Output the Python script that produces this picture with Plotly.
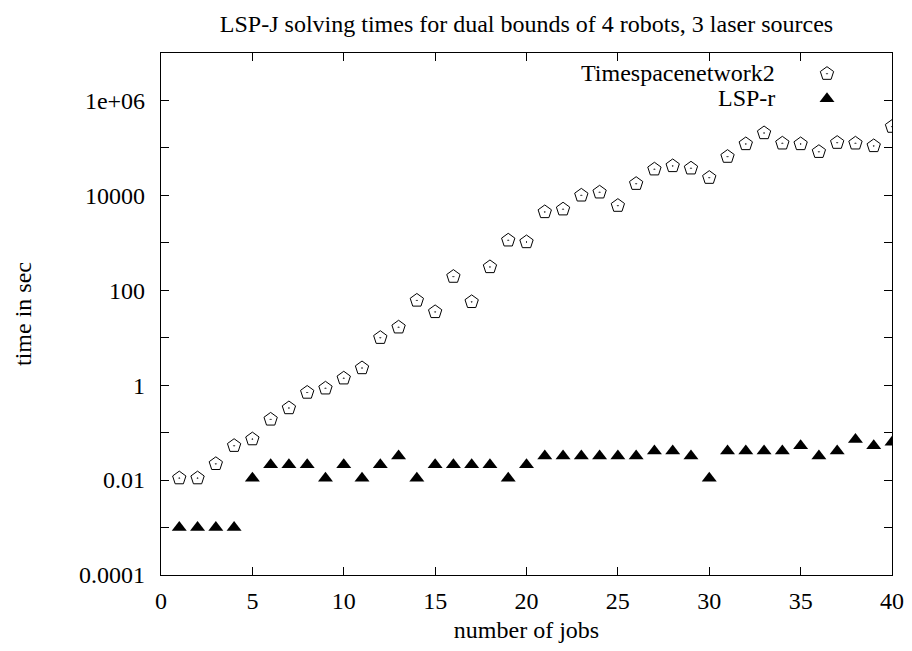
import plotly.graph_objects as go

jobs = list(range(1, 41))

timespacenetwork2 = [
    0.011, 0.011, 0.022, 0.053, 0.073, 0.19, 0.33, 0.70, 0.86, 1.4,
    2.3, 10, 16.6, 61, 35, 194, 57, 310, 1130, 1040,
    4470, 5100, 10000, 11600, 6070, 17600, 35500, 41700, 37200, 23600,
    65500, 121000, 206000, 125000, 121000, 83000, 129000, 125000, 110000, 281000,
]

lsp_r = [
    0.001, 0.001, 0.001, 0.001, 0.011, 0.021, 0.021, 0.021, 0.011, 0.021,
    0.011, 0.021, 0.032, 0.011, 0.021, 0.021, 0.021, 0.021, 0.011, 0.021,
    0.032, 0.032, 0.032, 0.032, 0.032, 0.032, 0.041, 0.041, 0.032, 0.011,
    0.041, 0.041, 0.041, 0.041, 0.053, 0.032, 0.041, 0.072, 0.053, 0.063,
]

series_names = ["Timespacenetwork2", "LSP-r"]

x_ticks = [0, 5, 10, 15, 20, 25, 30, 35, 40]
y_tickvals = [1e-4, 1e-3, 1e-2, 1e-1, 1, 10, 100, 1e3, 1e4, 1e5, 1e6]
y_ticktext = ["0.0001", "", "0.01", "", "1", "", "100", "", "10000", "", "1e+06"]

FONT = "Liberation Serif, Times New Roman, serif"
FS = 24

fig = go.Figure()
# legend text is drawn as right-aligned labels (gnuplot style: label, then symbol)
fig.add_trace(go.Scatter(
    x=jobs, y=timespacenetwork2, mode="markers", name="",
    hovertemplate="%{x}, %{y}<extra>" + series_names[0] + "</extra>",
    marker=dict(symbol="pentagon-open-dot", size=14, color="black",
                line=dict(color="black", width=1)),
))
fig.add_trace(go.Scatter(
    x=jobs, y=lsp_r, mode="markers", name="",
    hovertemplate="%{x}, %{y}<extra>" + series_names[1] + "</extra>",
    marker=dict(symbol="triangle-up", size=13, color="black",
                line=dict(width=0)),
))

axis_common = dict(
    showgrid=False, zeroline=False, showline=True, linecolor="black",
    linewidth=1.2, mirror="ticks", ticks="inside", ticklen=8,
    tickcolor="black", tickwidth=1, automargin=False,
    tickfont=dict(family=FONT, size=FS, color="black"),
)

legend_rows_y = [0.9617, 0.9138]
annotations = [
    dict(text=name, xref="paper", yref="paper", x=0.8427, y=yy,
         xanchor="right", yanchor="middle", showarrow=False,
         font=dict(family=FONT, size=FS, color="black"))
    for name, yy in zip(series_names, legend_rows_y)
]

fig.update_layout(
    width=896, height=635,
    paper_bgcolor="white", plot_bgcolor="white",
    margin=dict(l=153, r=12, t=45, b=68),
    font=dict(family=FONT, color="black"),
    title=dict(
        text="LSP-J solving times for dual bounds of 4 robots, 3 laser sources",
        x=0.5, xref="paper", xanchor="center",
        y=1 - 16 / 635, yanchor="middle", yref="container",
        font=dict(family=FONT, size=FS, color="black"),
    ),
    xaxis=dict(
        range=[0, 40], tickvals=x_ticks, ticklabelstandoff=4,
        title=dict(text="number of jobs", font=dict(family=FONT, size=FS), standoff=12),
        **axis_common,
    ),
    yaxis=dict(
        type="log", range=[-4, 7], tickvals=y_tickvals, ticktext=y_ticktext,
        ticklabelstandoff=10,
        title=dict(text="time in sec", font=dict(family=FONT, size=FS), standoff=40),
        **axis_common,
    ),
    legend=dict(
        x=0.8837, y=0.994, xanchor="left", yanchor="top",
        bgcolor="rgba(0,0,0,0)", borderwidth=0,
        font=dict(family=FONT, size=17, color="black"),
        tracegroupgap=0, itemwidth=30,
    ),
    annotations=annotations,
    showlegend=True,
)

fig.write_html("out.html")
